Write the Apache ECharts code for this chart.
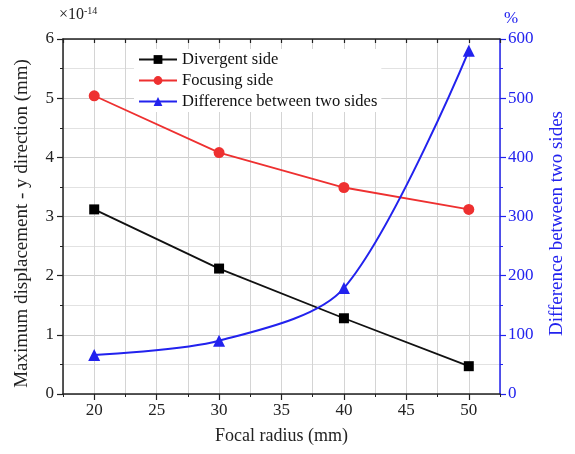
<!DOCTYPE html>
<html><head><meta charset="utf-8">
<script src="https://cdn.jsdelivr.net/npm/echarts@6/dist/echarts.min.js"></script>
<style>html,body{margin:0;padding:0;background:#fff}#c{width:575px;height:454px}</style>
</head><body><div id="c"></div>
<script>
var radius = [20, 30, 40, 50];
var divergent = [3.12, 2.12, 1.28, 0.47];
var focusing = [5.04, 4.08, 3.49, 3.12];
var difference = [66, 90, 179, 580];
var xTickLabels = [20, 25, 30, 35, 40, 45, 50];

var F = 'Liberation Serif, Times New Roman, serif';
var BLUE = '#2222ee';
var RED = '#ee3030';
var chart = echarts.init(document.getElementById('c'));
function pairs(xs, ys){ return xs.map(function(x,i){ return [x, ys[i]]; }); }
var grid = {left: 63, right: 72, top: 39, bottom: 60};
chart.setOption({
  animation: false,
  backgroundColor: '#fff',
  grid: grid,
  legend: {
    orient: 'vertical', left: 134, top: 49, itemGap: 4,
    itemWidth: 38, itemHeight: 11, backgroundColor: '#fff', padding: [2, 4, 2, 4],
    textStyle: {fontFamily: F, fontSize: 16.5, color: '#111'},
    data: ['Divergent side', 'Focusing side', 'Difference between two sides']
  },
  graphic: [
    {type: 'text', left: 59, top: 6, style: {
      text: '{a|×10}{b|-14}', rich: {
        a: {fontFamily: F, fontSize: 16, fill: '#222'},
        b: {fontFamily: F, fontSize: 10, fill: '#222', verticalAlign: 'top', padding: [0,0,8,0]}
      }}},
    {type: 'text', left: 504, top: 10, style: {text: '%', fontFamily: F, fontSize: 17, fill: BLUE}}
  ],
  xAxis: [
    {type: 'value', position: 'bottom', min: 17.5, max: 52.5,
     name: 'Focal radius (mm)', nameLocation: 'middle', nameGap: 33,
     nameTextStyle: {fontFamily: F, fontSize: 18, color: '#222'},
     axisLine: {show: true, onZero: false, lineStyle: {color: '#222', width: 1.5}},
     axisTick: {show: true, length: 6, customValues: xTickLabels, lineStyle: {color: '#222', width: 1.2}},
     axisLabel: {customValues: xTickLabels, fontFamily: F, fontSize: 17, color: '#222', margin: 8},
     splitLine: {show: false}},
    {type: 'value', position: 'bottom', min: 17.5, max: 52.5, interval: 2.5,
     axisLine: {show: false, onZero: false},
     axisTick: {show: true, length: 3, lineStyle: {color: '#222', width: 1}},
     axisLabel: {show: false},
     splitLine: {show: true, lineStyle: {color: '#d4d4d4', width: 1}}},
    {type: 'value', position: 'top', min: 17.5, max: 52.5, interval: 2.5,
     axisLine: {show: true, onZero: false, lineStyle: {color: '#222', width: 1.5}},
     axisTick: {show: true, inside: true, length: 4, lineStyle: {color: '#222', width: 1.2}},
     axisLabel: {show: false}, splitLine: {show: false}}
  ],
  yAxis: [
    {type: 'value', position: 'left', min: 0, max: 6, interval: 1,
     name: 'Maximum displacement - y direction (mm)', nameLocation: 'middle', nameGap: 31,
     nameTextStyle: {fontFamily: F, fontSize: 19, color: '#222', padding: [0, 14, 0, 0]},
     axisLine: {show: true, lineStyle: {color: '#222', width: 1.5}},
     axisTick: {show: true, length: 6, lineStyle: {color: '#222', width: 1.2}},
     minorTick: {show: true, splitNumber: 2, length: 3, lineStyle: {color: '#222'}},
     axisLabel: {fontFamily: F, fontSize: 17, color: '#222', margin: 9},
     splitLine: {show: true, lineStyle: {color: '#cfcfcf'}},
     minorSplitLine: {show: true, lineStyle: {color: '#e2e2e2'}}},
    {type: 'value', position: 'right', min: 0, max: 600, interval: 100,
     name: 'Difference between two sides', nameLocation: 'middle', nameGap: 48, nameRotate: 90,
     nameTextStyle: {fontFamily: F, fontSize: 19, color: BLUE, padding: [0, 14, 0, 0]},
     axisLine: {show: true, lineStyle: {color: BLUE, width: 1.5}},
     axisTick: {show: true, length: 6, lineStyle: {color: BLUE, width: 1.2}},
     minorTick: {show: true, splitNumber: 2, length: 3, lineStyle: {color: BLUE}},
     axisLabel: {fontFamily: F, fontSize: 17, color: BLUE, margin: 8},
     splitLine: {show: false}}
  ],
  series: [
    {name: 'Divergent side', type: 'line', xAxisIndex: 0, yAxisIndex: 0,
     data: pairs(radius, divergent), symbol: 'rect', symbolSize: 10,
     itemStyle: {color: '#000'}, lineStyle: {color: '#111', width: 1.8}},
    {name: 'Focusing side', type: 'line', xAxisIndex: 0, yAxisIndex: 0,
     data: pairs(radius, focusing), symbol: 'circle', symbolSize: 11,
     itemStyle: {color: RED}, lineStyle: {color: RED, width: 1.8}},
    {name: 'Difference between two sides', type: 'line', xAxisIndex: 0, yAxisIndex: 1,
     data: pairs(radius, difference), symbol: 'triangle', symbolSize: 12,
     smooth: 0.3,
     itemStyle: {color: BLUE}, lineStyle: {color: BLUE, width: 2}}
  ]
});
</script></body></html>
